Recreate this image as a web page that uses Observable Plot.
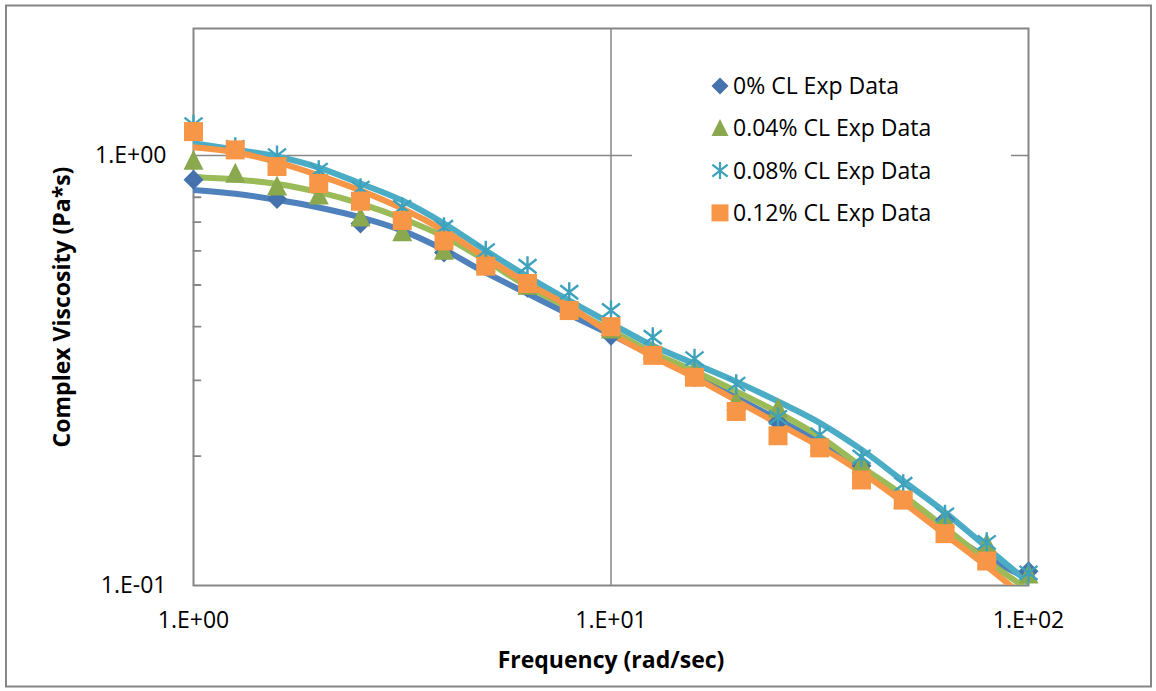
<!DOCTYPE html>
<html><head><meta charset="utf-8">
<script src="https://cdn.jsdelivr.net/npm/d3@7"></script>
<script src="https://cdn.jsdelivr.net/npm/@observablehq/plot@0.6"></script>
<style>
html,body{margin:0;padding:0;background:#fff;}
#chart{width:1156px;height:691px;}
</style></head><body><div id="chart"></div>
<script>
// ---------- data ----------
const freq = [1, 1.259, 1.585, 1.995, 2.512, 3.162, 3.981, 5.012, 6.31, 7.943, 10, 12.59, 15.85, 19.95, 25.12, 31.62, 39.81, 50.12, 63.1, 79.43, 100];
const freqEven = [1, 1.585, 2.512, 3.981, 6.31, 10, 15.85, 25.12, 39.81, 63.1, 100];

// experimental points (markers)
const exp0  = [0.878, 0.793, 0.695, 0.595, 0.493, 0.381, 0.305, 0.240, 0.190, 0.142, 0.108];
const exp04 = [0.973, 0.907, 0.847, 0.807, 0.718, 0.663, 0.601, 0.562, 0.498, 0.443, 0.394, 0.352, 0.316, 0.268, 0.258, 0.215, 0.192, 0.158, 0.143, 0.125, 0.106];
const exp08 = [1.18, 1.045, 1.0, 0.925, 0.84, 0.758, 0.681, 0.601, 0.553, 0.481, 0.436, 0.378, 0.337, 0.294, 0.246, 0.224, 0.199, 0.172, 0.146, 0.126, 0.107];
const exp12 = [1.137, 1.031, 0.943, 0.861, 0.783, 0.706, 0.633, 0.553, 0.504, 0.436, 0.400, 0.343, 0.305, 0.254, 0.223, 0.209, 0.176, 0.158, 0.132, 0.114, 0.092];

// fitted model curves (lines)
const model0  = [0.832, 0.815, 0.789, 0.757, 0.718, 0.669, 0.604, 0.534, 0.4775, 0.427, 0.3835, 0.3426, 0.3078, 0.2736, 0.2432, 0.215, 0.185, 0.1576, 0.1342, 0.1161, 0.1038];
const model04 = [0.890, 0.880, 0.859, 0.822, 0.773, 0.714, 0.648, 0.570, 0.496, 0.441, 0.392, 0.348, 0.315, 0.283, 0.2525, 0.222, 0.189, 0.162, 0.1364, 0.1143, 0.0977];
const model08 = [1.068, 1.033, 0.995, 0.938, 0.861, 0.786, 0.695, 0.601, 0.523, 0.460, 0.407, 0.361, 0.328, 0.298, 0.268, 0.239, 0.207, 0.175, 0.148, 0.1226, 0.1016];
const model12 = [1.045, 1.018, 0.965, 0.899, 0.829, 0.753, 0.669, 0.579, 0.504, 0.446, 0.3855, 0.3408, 0.3046, 0.2693, 0.2379, 0.2105, 0.1831, 0.156, 0.1314, 0.1107, 0.0923];

const seriesNames = ["0% CL Exp Data", "0.04% CL Exp Data", "0.08% CL Exp Data", "0.12% CL Exp Data"];
const lineColors = ["#4F81BD", "#9BBB59", "#4BACC6", "#F79646"];
const markerColors = ["#4572AC", "#8AA84D", "#3EA2BC", "#F79646"];

const xTickValues = [1, 10, 100];
const xTickLabels = ["1.E+00", "1.E+01", "1.E+02"];
const yTickValues = [0.1, 1];
const yTickLabels = ["1.E-01", "1.E+00"];
const yMinorTicks = [0.2, 0.3, 0.4, 0.5, 0.6, 0.7, 0.8, 0.9];
const xTitle = "Frequency (rad/sec)";
const yTitle = "Complex Viscosity (Pa*s)";

// ---------- symbols ----------
const symDiamond = {draw(c, s){ const r = Math.sqrt(s/Math.PI); c.moveTo(0,-r); c.lineTo(r,0); c.lineTo(0,r); c.lineTo(-r,0); c.closePath(); }};
const symTriangle = {draw(c, s){ const r = Math.sqrt(s/Math.PI); c.moveTo(0,-1.1*r); c.lineTo(r,0.9*r); c.lineTo(-r,0.9*r); c.closePath(); }};
const symStar = {draw(c, s){ const r = Math.sqrt(s/Math.PI); const a = 0.9*r, b = 0.7*r;
  c.moveTo(0,-r); c.lineTo(0,r); c.moveTo(-a,-b); c.lineTo(a,b); c.moveTo(-a,b); c.lineTo(a,-b); }};
const symSquare = {draw(c, s){ const r = Math.sqrt(s/Math.PI); c.rect(-r,-r,2*r,2*r); }};
const symbols = [symDiamond, symTriangle, symStar, symSquare];
const tickShape = {draw(c, l){ c.moveTo(0, 0); c.lineTo(0, -l); }};

// ---------- tables ----------
const toRows = (xs, ys) => xs.map((f, i) => ({f, v: ys[i]}));
const models = [model0, model04, model08, model12].map(m => toRows(freq, m));
const exps = [toRows(freqEven, exp0), toRows(freq, exp04), toRows(freq, exp08), toRows(freq, exp12)];

const grid = "#868686";
const font = "'Open Sans', sans-serif";

const marks = [
  Plot.ruleY([1], {stroke: grid, strokeWidth: 1.5}),
  Plot.ruleX([10], {stroke: grid, strokeWidth: 1.5}),
  Plot.frame({stroke: grid, strokeWidth: 2}),
  Plot.vector(yMinorTicks, {y: d => d, frameAnchor: "left", length: 7, rotate: 90, anchor: "start", shape: tickShape, stroke: grid, strokeWidth: 1.8}),
  Plot.axisY(yTickValues, {anchor: "left", tickSize: 0, tickPadding: 27, fontSize: 23, label: null,
    tickFormat: d => yTickLabels[yTickValues.indexOf(d)]}),
  Plot.axisX(xTickValues, {anchor: "bottom", tickSize: 0, tickPadding: 26, fontSize: 23, label: null,
    tickFormat: d => xTickLabels[xTickValues.indexOf(d)]}),
  Plot.text([xTitle], {text: d => d, frameAnchor: "bottom", dy: 75, textAnchor: "middle", lineAnchor: "middle", fontWeight: "bold", fontSize: 23}),
  Plot.text([yTitle], {text: d => d, frameAnchor: "left", dx: -131, rotate: -90, textAnchor: "middle", lineAnchor: "middle", fontWeight: "bold", fontSize: 23}),
];
models.forEach((rows, i) => marks.push(
  Plot.line(rows, {x: "f", y: "v", stroke: lineColors[i], strokeWidth: 6, curve: "catmull-rom", clip: true})
));
exps.forEach((rows, i) => {
  const isStar = symbols[i] === symStar;
  marks.push(Plot.dot(rows, {x: "f", y: "v", filter: d => d.v >= 0.1, symbol: symbols[i], r: i === 3 ? 9.5 : 10,
    fill: isStar ? "none" : markerColors[i], stroke: isStar ? markerColors[i] : "none", strokeWidth: isStar ? 2.4 : 0}));
});

const svg = Plot.plot({
  width: 1156, height: 691,
  marginLeft: 193, marginRight: 128, marginTop: 28, marginBottom: 106,
  x: {type: "log", domain: [1, 100]},
  y: {type: "log", domain: [0.1, 1.975]},
  style: {fontFamily: font, fontSize: "23px", color: "#000", background: "#fff", overflow: "visible"},
  marks
});
document.getElementById("chart").appendChild(svg);

// outer chart border
const s = d3.select(svg);
s.insert("rect", ":first-child").attr("x", 6).attr("y", 5.5).attr("width", 1145).attr("height", 681)
  .attr("fill", "#fff").attr("stroke", grid).attr("stroke-width", 2);

// legend
const lg = s.append("g").attr("text-anchor", "start");
lg.append("rect").attr("x", 632).attr("y", 58).attr("width", 379).attr("height", 180).attr("fill", "#fff");
seriesNames.forEach((name, i) => {
  const cy = 86 + i * 42.3;
  const isStar = symbols[i] === symStar;
  lg.append("path").attr("transform", `translate(720,${cy})`)
    .attr("d", d3.symbol().type(symbols[i]).size(Math.PI * 8.5 * 8.5)())
    .attr("fill", isStar ? "none" : markerColors[i]).attr("stroke", isStar ? markerColors[i] : "none").attr("stroke-width", 2.2);
  lg.append("text").attr("x", 733).attr("y", cy).attr("dy", "0.35em").attr("text-anchor", "start")
    .attr("font-family", font).attr("font-size", 23).attr("fill", "#000").text(name);
});
</script></body></html>
